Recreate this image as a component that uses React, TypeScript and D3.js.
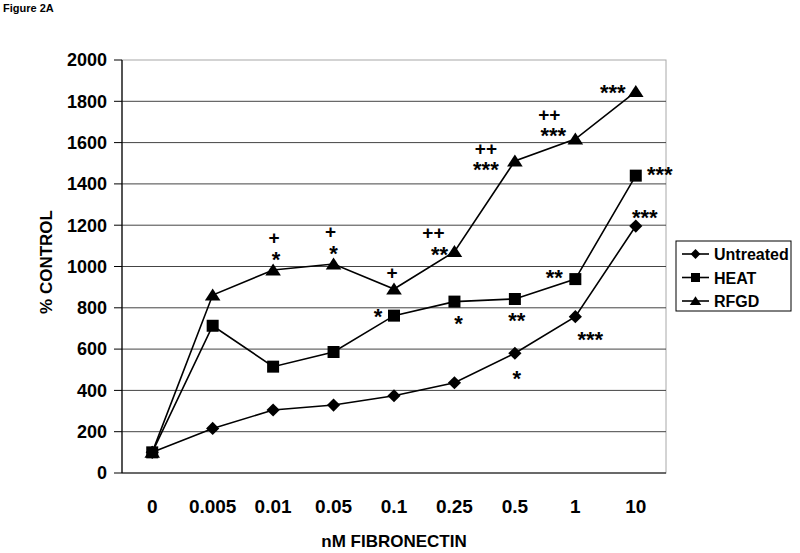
import React from "react";
import * as d3 from "d3";

const categories = ["0", "0.005", "0.01", "0.05", "0.1", "0.25", "0.5", "1", "10"];
const untreated = [100, 216, 305, 329, 374, 437, 580, 757, 1196];
const heat = [100, 713, 515, 586, 762, 830, 843, 939, 1440];
const rfgd = [100, 862, 983, 1012, 891, 1072, 1511, 1617, 1847];
const yTicks = [0, 200, 400, 600, 800, 1000, 1200, 1400, 1600, 1800, 2000];
const seriesNames = ["Untreated", "HEAT", "RFGD"];

// significance annotations: series index, category index, label
const annSeries = [2, 2, 2, 2, 2, 2, 2, 2, 2, 2, 2, 2, 1, 1, 1, 1, 1, 0, 0, 0];
const annCat = [2, 2, 3, 3, 4, 5, 5, 6, 6, 7, 7, 8, 4, 5, 6, 7, 8, 6, 7, 8];
const annText = ["+", "*", "+", "*", "+", "++", "**", "++", "***", "++", "***", "***", "*", "*", "**", "**", "***", "*", "***", "***"];
const annDx = [1, 3, -3, 0, -2, -21, -15, -29, -29, -26, -22, -23, -16, 4, 2, -21, 24, 2, 15, 9];
const annDy = [-32, -15, -32, -15, -16, -19, -2, -12, 4, -25, -8, -4, -4, 17, 17, -6, -6, 20, 18, -13];

const FONT = "'Liberation Sans', Arial, Helvetica, sans-serif";

function markerPath(kind: number, x: number, y: number, s: number): string {
  const p = d3.path();
  if (kind === 0) {
    const r = s * 0.55;
    p.moveTo(x, y - r);
    p.lineTo(x + r, y);
    p.lineTo(x, y + r);
    p.lineTo(x - r, y);
    p.closePath();
  } else if (kind === 1) {
    const h = s * 0.5;
    p.rect(x - h, y - h, s, s);
  } else {
    const w = s * 0.52;
    const h = s * 0.8;
    p.moveTo(x, y - h * 0.55);
    p.lineTo(x + w, y + h * 0.45);
    p.lineTo(x - w, y + h * 0.45);
    p.closePath();
  }
  return p.toString();
}

export default function App() {
  const x = d3.scalePoint<string>().domain(categories).range([122, 666]).padding(0.5);
  const y = d3.scaleLinear().domain([0, 2000]).range([473, 60]);
  const all = [untreated, heat, rfgd];
  const line = d3
    .line<number>()
    .x((_, i) => x(categories[i]) as number)
    .y((d) => y(d));

  return (
    <svg
      width={800}
      height={553}
      style={{ position: "absolute", left: 0, top: 0, background: "#fff" }}
      fontFamily={FONT}
    >
      <rect x={0} y={0} width={800} height={553} fill="#fff" />
      <text x={3} y={12} fontSize={11} fontWeight="bold">Figure 2A</text>

      {/* plot border */}
      <rect x={122} y={60} width={544} height={413} fill="none" stroke="#a8a8a8" strokeWidth={1} />

      {/* gridlines */}
      {yTicks.filter((t) => t > 0 && t < 2000).map((t) => (
        <line key={"g" + t} x1={122} x2={666} y1={y(t)} y2={y(t)} stroke="#444" strokeWidth={1} />
      ))}

      {/* axes */}
      <line x1={122} x2={122} y1={60} y2={473} stroke="#000" strokeWidth={1.2} />
      <line x1={122} x2={666} y1={473} y2={473} stroke="#000" strokeWidth={1.2} />
      {yTicks.map((t) => (
        <g key={"t" + t}>
          <line x1={114} x2={122} y1={y(t)} y2={y(t)} stroke="#000" strokeWidth={1} />
          <text x={107} y={y(t) + 6.3} fontSize={18} fontWeight="bold" textAnchor="end">
            {t}
          </text>
        </g>
      ))}
      {categories.map((c) => (
        <text key={"x" + c} x={x(c) as number} y={513} fontSize={19} fontWeight="bold" textAnchor="middle">
          {c}
        </text>
      ))}

      <text x={394} y={546.5} fontSize={17} fontWeight="bold" textAnchor="middle">
        nM FIBRONECTIN
      </text>
      <text
        transform={`translate(52,262) rotate(-90)`}
        fontSize={17}
        fontWeight="bold"
        textAnchor="middle"
      >
        % CONTROL
      </text>

      {/* series lines */}
      {all.map((s, k) => (
        <path key={"l" + k} d={line(s) as string} fill="none" stroke="#000" strokeWidth={1.6} />
      ))}
      {all.map((s, k) =>
        s.map((v, i) => (
          <path key={"m" + k + "_" + i} d={markerPath(k, x(categories[i]) as number, y(v), k === 2 ? 15 : 12)} fill="#000" />
        ))
      )}

      {/* annotations */}
      {annText.map((t, j) => {
        const s = all[annSeries[j]];
        const c = annCat[j];
        const cx = (x(categories[c]) as number) + annDx[j];
        const cy = y(s[c]) + annDy[j];
        const isStar = t.includes("*");
        const fs = isStar ? 22 : 19;
        const off = isStar ? fs * 0.56 : fs * 0.34;
        return (
          <text key={"a" + j} x={cx} y={cy + off} fontSize={fs} fontWeight="bold" textAnchor="middle">
            {t}
          </text>
        );
      })}

      {/* legend */}
      <rect x={676} y={241} width={115} height={70} fill="#fff" stroke="#000" strokeWidth={1} />
      {seriesNames.map((n, k) => {
        const cy = 254 + k * 23.5;
        return (
          <g key={"lg" + n}>
            <line x1={682} x2={709} y1={cy} y2={cy} stroke="#000" strokeWidth={1.6} />
            <path d={markerPath(k, 695.5, cy, k === 2 ? 11 : 9)} fill="#000" />
            <text x={714} y={cy + 6} fontSize={16} fontWeight="bold">
              {n}
            </text>
          </g>
        );
      })}
    </svg>
  );
}
